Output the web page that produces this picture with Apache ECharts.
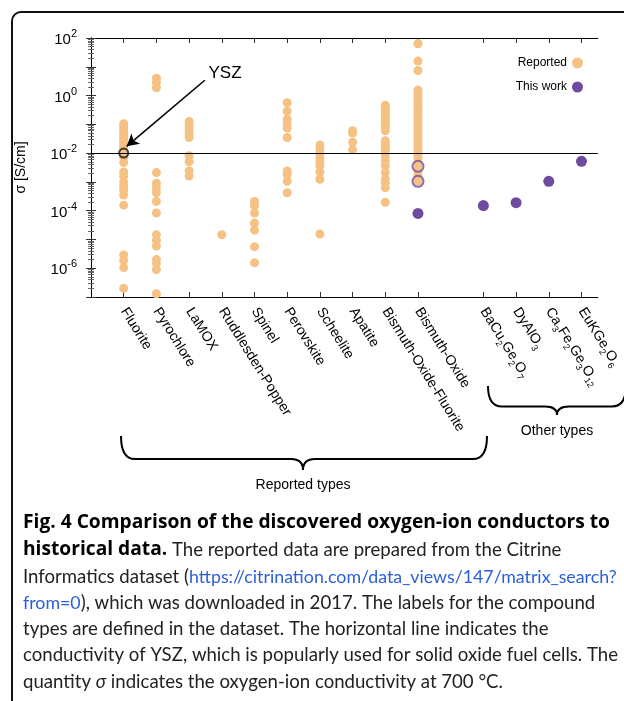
<!DOCTYPE html>
<html>
<head>
<meta charset="utf-8">
<script src="https://cdn.jsdelivr.net/npm/echarts@6/dist/echarts.min.js"></script>
<style>
	html, body { margin: 0; padding: 0; background: #fff; }
	#main { width: 624px; height: 701px; }
</style>
</head>
<body>
<div id="main"></div>
<script>
// reported compound types, x positions 1..10
var reportedTypes = ['Fluorite', 'Pyrochlore', 'LaMOX', 'Ruddlesden-Popper', 'Spinel',
	'Perovskite', 'Scheelite', 'Apatite', 'Bismuth-Oxide-Fluorite', 'Bismuth-Oxide'];
var reportedPos = [1, 2, 3, 4, 5, 6, 7, 8, 9, 10];

// other types (this work), x positions 12..15
var otherTypes = ['BaCu{s|2}Ge{s|2}O{s|7}', 'DyAlO{s|3}', 'Ca{s|3}Fe{s|2}Ge{s|3}O{s|12}', 'EuKGe{s|2}O{s|6}'];
var otherPos = [12, 13, 14, 15];
var thisWork = [1.5e-4, 1.9e-4, 1.05e-3, 5.2e-3];

// this-work compounds that fall into the Bismuth-Oxide type (open rings)
var rediscovered = [3.5e-3, 1.05e-3];

var yszValue = 0.01;

// sigma [S/cm] per reported type
var fluorite = [0.105, 0.085, 0.069, 0.056, 0.047, 0.038, 0.031, 0.025, 0.021, 0.017, 0.0138,
	0.0071, 0.0047, 0.0022, 0.0016, 0.001, 7.1e-4, 5.1e-4, 3.5e-4, 1.55e-4,
	2.9e-6, 1.9e-6, 1.05e-6, 2.0e-7];
var pyrochlore = [3.98, 2.9, 1.86, 2.1e-3, 8.9e-4, 6.3e-4, 4.2e-4, 2.1e-4, 8.3e-5,
	1.45e-5, 9.1e-6, 5.9e-6, 2.0e-6, 1.45e-6, 8.9e-7, 1.3e-7];
var lamox = [0.126, 0.091, 0.069, 0.05, 0.035, 8.1e-3, 5.0e-3, 2.4e-3, 1.6e-3];
var ruddlesden = [1.45e-5];
var spinel = [2.1e-4, 1.5e-4, 8.3e-5, 3.7e-5, 2.1e-5, 5.6e-6, 1.55e-6];
var perovskite = [0.56, 0.28, 0.148, 0.105, 0.074, 0.035, 2.4e-3, 1.8e-3, 1.05e-3, 4.2e-4];
var scheelite = [0.019, 0.0138, 0.01, 0.0071, 0.005, 0.0036, 0.0022, 0.00123, 1.55e-5];
var apatite = [0.06, 0.05, 0.024, 0.0132];
var bismuthOxideFluorite = [0.46, 0.37, 0.30, 0.25, 0.2, 0.166, 0.135, 0.112, 0.091, 0.074, 0.06,
	0.027, 0.0224, 0.018, 0.0148, 0.012, 8.1e-3, 5.4e-3, 3.6e-3, 2.1e-3, 1.23e-3,
	8.9e-4, 6.3e-4, 1.95e-4];
var bismuthOxide = [63, 15.8, 7.4, 1.55, 1.2, 0.89, 0.68, 0.5, 0.38, 0.28, 0.21, 0.158, 0.12,
	0.089, 0.068, 0.05, 0.038, 0.028, 0.021, 0.0158, 0.012, 0.0089, 0.0071, 0.0045,
	0.0032, 0.0022, 0.0016, 0.00105];
var bismuthThisWork = [8e-5];

var reportedValues = [fluorite, pyrochlore, lamox, ruddlesden, spinel, perovskite,
	scheelite, apatite, bismuthOxideFluorite, bismuthOxide];

var orange = '#F6C283';
var purple = '#6E4B9E';
var font = 'Liberation Sans, Arial, sans-serif';

var reportedData = [];
for (var i in reportedValues) {
	for (var j in reportedValues[i]) {
		reportedData.push([reportedPos[i], reportedValues[i][j]]);
	}
}
var thisWorkData = [];
for (var k in thisWork) {
	thisWorkData.push([otherPos[k], thisWork[k]]);
}
for (var b in bismuthThisWork) {
	thisWorkData.push([reportedPos[9], bismuthThisWork[b]]);
}
var ringData = [];
for (var r in rediscovered) {
	ringData.push([reportedPos[9], rediscovered[r]]);
}

var allPos = reportedPos.concat(otherPos);
var allNames = reportedTypes.concat(otherTypes);

function xLabel(value) {
	var idx = allPos.indexOf(Math.round(value));
	return idx < 0 ? '' : allNames[idx];
}

function yLabel(value) {
	var e = Math.round(Math.log(value) / Math.LN10);
	if (e % 2 !== 0) return '';
	return '{b|10}{sup|' + e + '}';
}

// curly brace below the axis labels, built from curves and lines
function brace(x1, x2, y1, y2, cx) {
	var ym = (y1 + y2) / 2 + 6;
	var st = { fill: 'none', stroke: '#000', lineWidth: 2 };
	return [
		{ type: 'bezierCurve', shape: { x1: x1, y1: y1, x2: x1 + 14, y2: ym, cpx1: x1, cpy1: ym }, style: st },
		{ type: 'line', shape: { x1: x1 + 14, y1: ym, x2: cx - 12, y2: ym }, style: st },
		{ type: 'bezierCurve', shape: { x1: cx - 12, y1: ym, x2: cx, y2: y2, cpx1: cx, cpy1: ym }, style: st },
		{ type: 'bezierCurve', shape: { x1: cx, y1: y2, x2: cx + 12, y2: ym, cpx1: cx, cpy1: ym }, style: st },
		{ type: 'line', shape: { x1: cx + 12, y1: ym, x2: x2 - 14, y2: ym }, style: st },
		{ type: 'bezierCurve', shape: { x1: x2 - 14, y1: ym, x2: x2, y2: y1, cpx1: x2, cpy1: ym }, style: st }
	];
}

var linkText = 'https://citrination.com/data_views/147/matrix_search?';
var captionLines = [
	'{b|Fig. 4 Comparison of the discovered oxygen-ion conductors to}',
	'{b|historical data.} The reported data are prepared from the Citrine',
	'Informatics dataset ({a|' + linkText + '}',
	'{a|from=0}), which was downloaded in 2017. The labels for the compound',
	'types are defined in the dataset. The horizontal line indicates the',
	'conductivity of YSZ, which is popularly used for solid oxide fuel cells. The',
	'quantity {i|σ} indicates the oxygen-ion conductivity at 700 °C.'
];
var captionY = [523, 550, 577, 603, 629, 655, 682];

// size the caption fonts so the lines end where they do in the figure
var capFont = 'Lato, sans-serif';
var capBoldFont = 'Open Sans, sans-serif';
var measure = document.createElement('canvas').getContext('2d');
function textWidth(text, weight, family, size) {
	measure.font = weight + ' ' + size + 'px ' + family;
	return measure.measureText(text).width;
}
function fitSize(text, weight, family, target) {
	return Math.round(200 * target / textWidth(text, weight, family, 20)) / 10;
}
var capSize = fitSize('conductivity of YSZ, which is popularly used for solid oxide fuel cells. The', 'normal', capFont, 594);
var capBoldSize = fitSize('Fig. 4 Comparison of the discovered oxygen-ion conductors to', 'bold', capBoldFont, 586);
var linkSize = fitSize(linkText, 'normal', capFont,
	593 - textWidth('Informatics dataset (', 'normal', capFont, capSize));

var capRich = {
	b: { fontWeight: 'bold', fontSize: capBoldSize, fill: '#000', fontFamily: capBoldFont },
	a: { fill: '#2B5FD9', fontSize: linkSize, fontFamily: capFont },
	i: { fontStyle: 'italic', fontSize: capSize, fill: '#222', fontFamily: capFont }
};

var graphics = [
	{
		type: 'rect', shape: { x: 12, y: 12, width: 640, height: 720, r: 9 },
		style: { fill: 'none', stroke: '#111', lineWidth: 2 }, z: 10
	},
	{
		type: 'text', x: 303, y: 485,
		style: { text: 'Reported types', font: '14px ' + font, fill: '#000', align: 'center', verticalAlign: 'middle' }
	},
	{
		type: 'text', x: 557, y: 431,
		style: { text: 'Other types', font: '14px ' + font, fill: '#000', align: 'center', verticalAlign: 'middle' }
	}
];
graphics = graphics.concat(brace(121, 487, 436, 470, 303), brace(488, 626, 386, 415, 557));
for (var c in captionLines) {
	graphics.push({
		type: 'text', x: 23, y: captionY[c],
		style: {
			text: captionLines[c], fontSize: capSize, fontFamily: capFont, fill: '#222',
			verticalAlign: 'middle', rich: capRich
		}
	});
}

var myChart = echarts.init(document.getElementById('main'));

var axisLineStyle = { color: '#000', width: 1 };

myChart.setOption({
	animation: false,
	backgroundColor: '#fff',
	textStyle: { fontFamily: font },
	grid: { left: 91, right: 17, top: 38, bottom: 404 },
	legend: {
		orient: 'vertical', right: 36, top: 52, align: 'right',
		itemWidth: 11, itemHeight: 11, itemGap: 12,
		textStyle: { fontSize: 12, color: '#000', fontFamily: font },
		data: [
			{ name: 'Reported', icon: 'circle' },
			{ name: 'This work', icon: 'circle' }
		]
	},
	xAxis: [{
		type: 'value', min: 0, max: 15.5, position: 'bottom',
		axisLine: { lineStyle: axisLineStyle },
		splitLine: { show: false },
		axisTick: { inside: true, length: 5, customValues: allPos, lineStyle: { color: '#333' } },
		axisLabel: {
			customValues: allPos, formatter: xLabel, rotate: -58, margin: 12,
			fontSize: 14, color: '#000', fontFamily: font,
			rich: {
				s: { fontSize: 9, verticalAlign: 'bottom', lineHeight: 20, fontFamily: font, color: '#000' }
			}
		}
	}, {
		type: 'value', min: 0, max: 15.5, position: 'top',
		axisLine: { lineStyle: axisLineStyle },
		splitLine: { show: false },
		axisTick: { inside: true, length: 5, customValues: allPos, lineStyle: { color: '#333' } },
		axisLabel: { show: false }
	}],
	yAxis: [{
		type: 'log', logBase: 10, min: 1e-7, max: 1e2, interval: 1, position: 'left',
		name: 'σ [S/cm]', nameLocation: 'middle', nameGap: 63, nameRotate: 90,
		nameTextStyle: { fontSize: 14, color: '#000', fontFamily: font },
		axisLine: { lineStyle: axisLineStyle },
		splitLine: { show: false },
		axisTick: { inside: true, length: 5, lineStyle: { color: '#333' } },
		minorTick: { show: true, splitNumber: 9, length: 3, lineStyle: { color: '#666' } },
		axisLabel: {
			formatter: yLabel, margin: 14, color: '#000',
			rich: {
				b: { fontSize: 15, lineHeight: 19, verticalAlign: 'bottom', fontFamily: font, color: '#000' },
				sup: { fontSize: 11, lineHeight: 19, verticalAlign: 'top', fontFamily: font, color: '#000' }
			}
		}
	}, {
		type: 'log', logBase: 10, min: 1e-7, max: 1e2, interval: 1, position: 'right',
		axisLine: { lineStyle: axisLineStyle },
		splitLine: { show: false },
		axisTick: { inside: true, length: 5, lineStyle: { color: '#333' } },
		minorTick: { show: true, splitNumber: 9, length: 3, lineStyle: { color: '#666' } },
		axisLabel: { show: false }
	}],
	series: [{
		name: 'Reported', type: 'scatter', symbolSize: 9,
		itemStyle: { color: orange, opacity: 1 },
		data: reportedData,
		markLine: {
			silent: true, symbol: ['none', 'none'],
			label: { show: false },
			lineStyle: { color: '#000', width: 1.2, type: 'solid' },
			data: [{ yAxis: yszValue }]
		}
	}, {
		name: 'YSZ', type: 'scatter', symbolSize: 9,
		itemStyle: { color: 'rgba(0,0,0,0)', borderColor: '#111', borderWidth: 2 },
		data: [[reportedPos[0], yszValue]],
		markLine: {
			silent: true, symbol: ['none', 'arrow'], symbolSize: [10, 12],
			label: { show: false },
			lineStyle: { color: '#000', width: 1.6, type: 'solid' },
			data: [[{ coord: [3.48, 3.4] }, { coord: [1.09, 0.0172] }]]
		},
		markPoint: {
			symbolSize: 0,
			label: { show: true, formatter: 'YSZ', fontSize: 17, color: '#000', fontFamily: font, position: 'inside' },
			data: [{ coord: [4.1, 6.0] }]
		}
	}, {
		name: 'This work', type: 'scatter', symbolSize: 11,
		itemStyle: { color: purple, opacity: 1 },
		data: thisWorkData,
		z: 3
	}, {
		name: 'ring', type: 'scatter', symbolSize: 11,
		itemStyle: { color: 'rgba(0,0,0,0)', borderColor: purple, borderWidth: 2 },
		data: ringData,
		z: 3
	}],
	graphic: graphics
});
</script>
</body>
</html>
